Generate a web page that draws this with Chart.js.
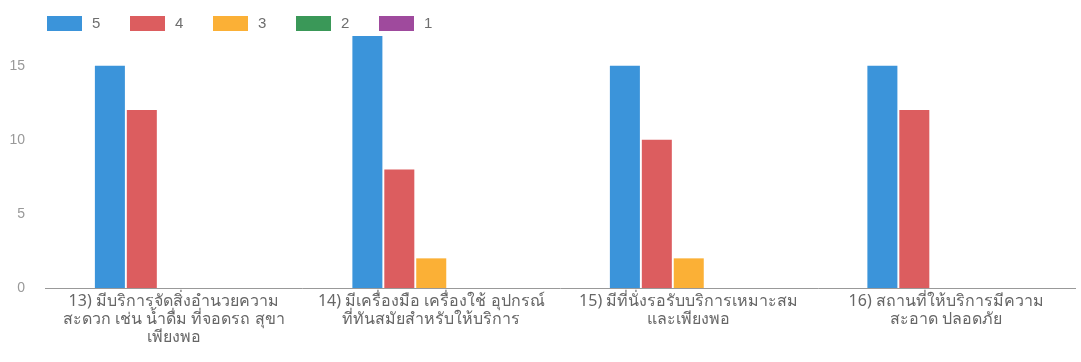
<!DOCTYPE html>
<html lang="th">
<head>
<meta charset="utf-8">
<title>ความพึงพอใจด้านสิ่งอำนวยความสะดวก</title>
<script src="https://cdn.jsdelivr.net/npm/chart.js@4/dist/chart.umd.min.js"></script>
<style>
  html, body { margin: 0; padding: 0; background: #ffffff; }
  #wrap { width: 1081px; height: 362px; }
</style>
</head>
<body>
<div id="wrap"><canvas id="chart" width="1081" height="362"></canvas></div>
<script>
// Question labels (each line of a wrapped label is one entry)
const categories = [
  ['13) มีบริการจัดสิ่งอำนวยความ', 'สะดวก เช่น น้ำดื่ม ที่จอดรถ สุขา', 'เพียงพอ'],
  ['14) มีเครื่องมือ เครื่องใช้ อุปกรณ์', 'ที่ทันสมัยสำหรับให้บริการ'],
  ['15) มีที่นั่งรอรับบริการเหมาะสม', 'และเพียงพอ'],
  ['16) สถานที่ให้บริการมีความ', 'สะอาด ปลอดภัย']
];

// Number of respondents per rating level
const seriesNames = ['5', '4', '3', '2', '1'];
const rating5 = [15, 17, 15, 15];
const rating4 = [12, 8, 10, 12];
const rating3 = [0, 2, 2, 0];
const rating2 = [0, 0, 0, 0];
const rating1 = [0, 0, 0, 0];

// Value-axis tick labels
const yTickValues = [0, 5, 10, 15];

const seriesColors = ['#3b94da', '#dc5d5f', '#fbb036', '#3a9858', '#9f4a9d'];
const seriesValues = [rating5, rating4, rating3, rating2, rating1];

// Legend drawn along the top edge: coloured box followed by its label
const topLegend = {
  id: 'topLegend',
  afterDraw(chart) {
    const ctx = chart.ctx;
    ctx.save();
    ctx.font = '15px "Liberation Sans", Arial, sans-serif';
    ctx.textBaseline = 'middle';
    ctx.textAlign = 'left';
    chart.data.datasets.forEach((ds, i) => {
      const x = 47 + i * 83;
      const y = 16;
      ctx.fillStyle = ds.backgroundColor;
      ctx.fillRect(x, y, 35, 15);
      ctx.fillStyle = '#6e6e6e';
      ctx.fillText(ds.label, x + 45, y + 8);
    });
    ctx.restore();
  }
};

new Chart(document.getElementById('chart'), {
  type: 'bar',
  data: {
    labels: categories,
    datasets: seriesNames.map((name, i) => ({
      label: name,
      data: seriesValues[i],
      backgroundColor: seriesColors[i],
      borderWidth: 0,
      categoryPercentage: 0.62,
      barPercentage: 0.94
    }))
  },
  options: {
    responsive: false,
    devicePixelRatio: 1,
    animation: false,
    layout: { padding: { left: 10, right: 6, top: 36, bottom: 0 } },
    plugins: {
      legend: { display: false },
      tooltip: { enabled: false }
    },
    scales: {
      x: {
        grid: { display: false, drawTicks: false },
        border: { display: true, color: '#999999', width: 1 },
        ticks: {
          maxRotation: 0,
          minRotation: 0,
          autoSkip: false,
          padding: 4,
          color: '#666666',
          font: { family: '"Noto Sans", "DejaVu Sans", sans-serif', size: 16, lineHeight: '18px' }
        },
        afterFit(scale) {
          scale.height = 74;
          scale.paddingLeft = 0;
          scale.paddingRight = 0;
        }
      },
      y: {
        min: 0,
        max: 17,
        grid: { display: false, drawTicks: false },
        border: { display: false },
        afterBuildTicks(scale) {
          scale.ticks = yTickValues.map(v => ({ value: v }));
        },
        ticks: {
          padding: 20,
          color: '#999999',
          font: { family: '"Liberation Sans", Arial, sans-serif', size: 14 }
        },
        afterFit(scale) { scale.width = 35; }
      }
    }
  },
  plugins: [topLegend]
});
</script>
</body>
</html>
